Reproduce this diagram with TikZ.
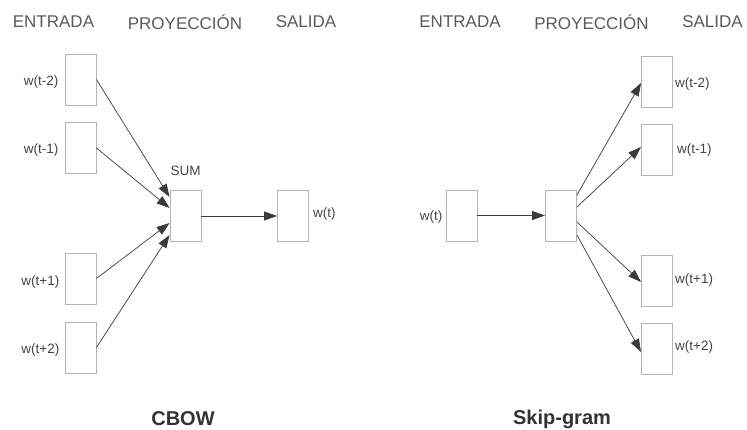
\documentclass[tikz,border=0pt]{standalone}
\usepackage{fontspec}
\setmainfont{Liberation Sans}
\usetikzlibrary{arrows.meta,positioning}
\definecolor{boxgray}{HTML}{B4B4B4}
\definecolor{hdrgray}{HTML}{5A5A5A}
\definecolor{lblgray}{HTML}{444444}
\definecolor{ttlgray}{HTML}{333333}
\definecolor{arrgray}{HTML}{3A3A3A}
\tikzset{
  vecbox/.style={draw=boxgray, line width=0.9pt, minimum width=31pt, minimum height=51pt, inner sep=0pt},
  hdr/.style={font=\fontsize{17}{20}\selectfont, text=hdrgray, inner sep=0pt},
  lbl/.style={font=\fontsize{13.5}{16}\selectfont, text=lblgray, inner sep=0pt},
  ttl/.style={font=\fontsize{20}{24}\selectfont\bfseries, text=ttlgray, inner sep=0pt},
  conn/.style={draw=arrgray, line width=0.7pt, -{Triangle[length=13pt,width=9pt]}}
}
\begin{document}
\begin{tikzpicture}[x=1pt,y=-1pt]
\useasboundingbox (0,0) rectangle (747,430);
% headers
\node[hdr] (h1) at (53.5,22) {ENTRADA};
\node[hdr] (h2) at (185,22) {PROYECCIÓN};
\node[hdr] (h3) at (306,22) {SALIDA};
\node[hdr] (h4) at (460,22) {ENTRADA};
\node[hdr] (h5) at (591.5,22) {PROYECCIÓN};
\node[hdr] (h6) at (712.5,22) {SALIDA};
% CBOW
\node[vecbox] (c1) at (80.5,79.5) {};
\node[vecbox] (c2) at (80.5,148) {};
\node[vecbox] (c3) at (80.5,278.5) {};
\node[vecbox] (c4) at (80.5,347.5) {};
\node[vecbox] (cs) at (185.5,216) {};
\node[vecbox] (co) at (293,216) {};
\node[lbl, anchor=east] (lc1) at (58.5,82) {w(t-2)};
\node[lbl, anchor=east] (lc2) at (58.5,150) {w(t-1)};
\node[lbl, anchor=east] (lc3) at (59.5,282) {w(t+1)};
\node[lbl, anchor=east] (lc4) at (59.5,350) {w(t+2)};
\node[lbl] (lsum) at (185.5,171) {SUM};
\node[lbl, anchor=west] (lco) at (313,214) {w(t)};
\draw[conn] (c1.east) -- ([yshift=19pt]cs.west);
\draw[conn] (c2.east) -- ([yshift=8pt]cs.west);
\draw[conn] (c3.east) -- ([yshift=-7pt]cs.west);
\draw[conn] (c4.east) -- ([yshift=-19pt]cs.west);
\draw[conn] (cs.east) -- (co.west);
\node[ttl] (tc) at (183,419) {CBOW};
% Skip-gram
\node[vecbox] (si) at (461.5,215.5) {};
\node[vecbox] (sp) at (561,215.5) {};
\node[vecbox] (s1) at (657,81.5) {};
\node[vecbox] (s2) at (657,149.5) {};
\node[vecbox] (s3) at (657,280.5) {};
\node[vecbox] (s4) at (657,348.5) {};
\node[lbl, anchor=east] (lsi) at (442.5,217) {w(t)};
\node[lbl, anchor=west] (ls1) at (675,84) {w(t-2)};
\node[lbl, anchor=west] (ls2) at (677,150) {w(t-1)};
\node[lbl, anchor=west] (ls3) at (675,280) {w(t+1)};
\node[lbl, anchor=west] (ls4) at (675,347) {w(t+2)};
\draw[conn] (si.east) -- (sp.west);
\draw[conn] ([yshift=20.5pt]sp.east) -- ([yshift=-1.5pt]s1.west);
\draw[conn] ([yshift=8.5pt]sp.east) -- ([yshift=2.5pt]s2.west);
\draw[conn] ([yshift=-6.5pt]sp.east) -- ([yshift=-1.5pt]s3.west);
\draw[conn] ([yshift=-19.5pt]sp.east) -- ([yshift=-3.5pt]s4.west);
\node[ttl] (ts) at (562,419) {Skip-gram};
\end{tikzpicture}
\end{document}
